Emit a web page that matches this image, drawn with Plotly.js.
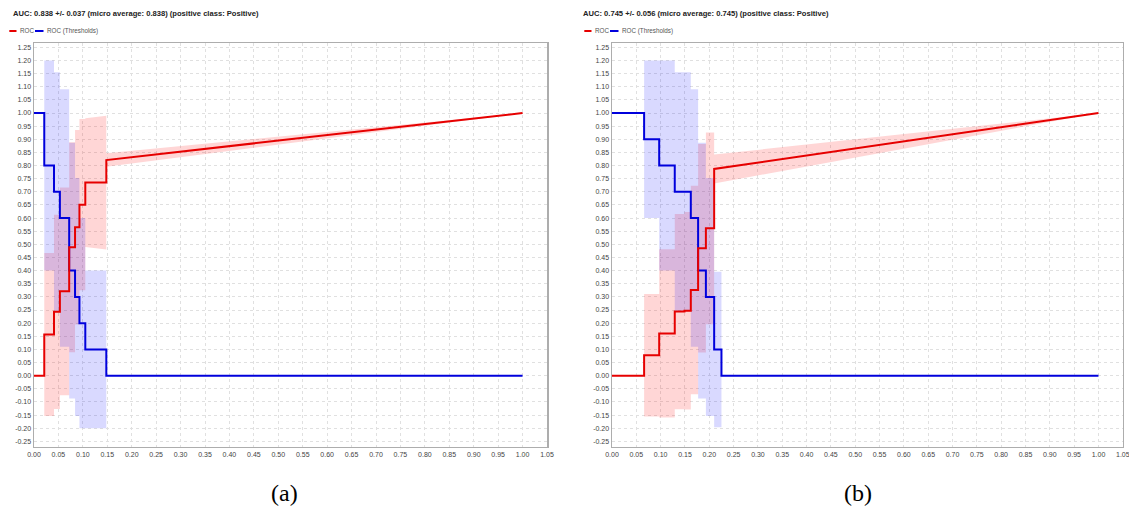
<!DOCTYPE html>
<html>
<head>
<meta charset="utf-8">
<script src="https://cdn.plot.ly/plotly-3.0.1.min.js"></script>
<style>html,body{margin:0;padding:0;background:#fff;overflow:hidden;}#chart{width:1129px;height:506px;}</style>
</head>
<body>
<div id="chart"></div>
<script>
// ---------- data (a) ----------
const rocA_x   = [0, 0.021, 0.021, 0.041, 0.041, 0.053, 0.053, 0.072, 0.072, 0.084, 0.084, 0.093, 0.093, 0.105, 0.105, 0.148, 0.148, 1.0];
const rocA_y   = [0, 0, 0.157, 0.157, 0.243, 0.243, 0.321, 0.321, 0.489, 0.489, 0.565, 0.565, 0.651, 0.651, 0.735, 0.735, 0.821, 1.0];
const rocA_sd  = [0, 0, 0.31, 0.31, 0.37, 0.37, 0.395, 0.395, 0.40, 0.40, 0.37, 0.37, 0.326, 0.326, 0.245, 0.255, 0.026, 0];
const thrA_x   = [0, 0.021, 0.021, 0.041, 0.041, 0.053, 0.053, 0.072, 0.072, 0.084, 0.084, 0.093, 0.093, 0.105, 0.105, 0.148, 0.148, 1.0];
const thrA_y   = [1, 1, 0.8, 0.8, 0.7, 0.7, 0.6, 0.6, 0.4, 0.4, 0.3, 0.3, 0.2, 0.2, 0.1, 0.1, 0, 0];
const thrA_sd  = [0, 0, 0.4, 0.4, 0.455, 0.455, 0.49, 0.49, 0.487, 0.487, 0.453, 0.453, 0.4, 0.4, 0.3, 0.3, 0, 0];

// ---------- data (b) ----------
const rocB_x   = [0, 0.066, 0.066, 0.097, 0.097, 0.129, 0.129, 0.149, 0.149, 0.162, 0.162, 0.177, 0.177, 0.193, 0.193, 0.210, 0.210, 1.0];
const rocB_y   = [0, 0, 0.078, 0.078, 0.161, 0.161, 0.244, 0.244, 0.247, 0.247, 0.326, 0.326, 0.485, 0.485, 0.561, 0.561, 0.787, 1.0];
const rocB_sd  = [0, 0, 0.233, 0.233, 0.32, 0.32, 0.372, 0.372, 0.376, 0.376, 0.397, 0.397, 0.397, 0.397, 0.365, 0.365, 0.055, 0];
const thrB_x   = [0, 0.066, 0.066, 0.097, 0.097, 0.129, 0.129, 0.162, 0.162, 0.177, 0.177, 0.193, 0.193, 0.210, 0.210, 0.225, 0.225, 1.0];
const thrB_y   = [1, 1, 0.9, 0.9, 0.8, 0.8, 0.7, 0.7, 0.6, 0.6, 0.4, 0.4, 0.3, 0.3, 0.1, 0.1, 0, 0];
const thrB_sd  = [0, 0, 0.3, 0.3, 0.4, 0.4, 0.455, 0.455, 0.49, 0.49, 0.487, 0.487, 0.453, 0.453, 0.296, 0.296, 0, 0];

// ---------- text ----------
const titleA = "AUC: 0.838 +/- 0.037 (micro average: 0.838) (positive class: Positive)";
const titleB = "AUC: 0.745 +/- 0.056 (micro average: 0.745) (positive class: Positive)";
const seriesNames = ["ROC", "ROC (Thresholds)"];
const captions = ["(a)", "(b)"];

// ---------- ticks ----------
const xTickVals = [0,0.05,0.10,0.15,0.20,0.25,0.30,0.35,0.40,0.45,0.50,0.55,0.60,0.65,0.70,0.75,0.80,0.85,0.90,0.95,1.00,1.05];
const xTickText = ["0.00","0.05","0.10","0.15","0.20","0.25","0.30","0.35","0.40","0.45","0.50","0.55","0.60","0.65","0.70","0.75","0.80","0.85","0.90","0.95","1.00","1.05"];
const yTickVals = [-0.25,-0.20,-0.15,-0.10,-0.05,0,0.05,0.10,0.15,0.20,0.25,0.30,0.35,0.40,0.45,0.50,0.55,0.60,0.65,0.70,0.75,0.80,0.85,0.90,0.95,1.00,1.05,1.10,1.15,1.20,1.25];
const yTickText = ["-0.25","-0.20","-0.15","-0.10","-0.05","0.00","0.05","0.10","0.15","0.20","0.25","0.30","0.35","0.40","0.45","0.50","0.55","0.60","0.65","0.70","0.75","0.80","0.85","0.90","0.95","1.00","1.05","1.10","1.15","1.20","1.25"];

// ---------- style ----------
const W = 1129, H = 506;
const RED = "rgb(230,0,0)", BLUE = "rgb(0,0,220)";
const RED_BAND = "rgba(255,0,0,0.16)", BLUE_BAND = "rgba(0,0,255,0.15)";
const px = v => v / W, py = v => 1 - v / H;

function band(xs, ys, sd, color, xa, ya) {
  const up = ys.map((v, i) => v + sd[i]);
  const lo = ys.map((v, i) => v - sd[i]);
  return {
    x: xs.concat(xs.slice().reverse()),
    y: up.concat(lo.slice().reverse()),
    type: "scatter", mode: "lines", fill: "toself", fillcolor: color,
    line: {width: 0, color: "rgba(0,0,0,0)"}, hoverinfo: "skip", showlegend: false,
    xaxis: xa, yaxis: ya
  };
}
function line(xs, ys, color, name, xa, ya) {
  return {x: xs, y: ys, type: "scatter", mode: "lines", name: name,
    line: {color: color, width: 2}, showlegend: false, xaxis: xa, yaxis: ya};
}

const data = [
  band(rocA_x, rocA_y, rocA_sd, RED_BAND, "x", "y"),
  band(thrA_x, thrA_y, thrA_sd, BLUE_BAND, "x", "y"),
  line(thrA_x, thrA_y, BLUE, seriesNames[1], "x", "y"),
  line(rocA_x, rocA_y, RED, seriesNames[0], "x", "y"),
  band(rocB_x, rocB_y, rocB_sd, RED_BAND, "x2", "y2"),
  band(thrB_x, thrB_y, thrB_sd, BLUE_BAND, "x2", "y2"),
  line(thrB_x, thrB_y, BLUE, seriesNames[1], "x2", "y2"),
  line(rocB_x, rocB_y, RED, seriesNames[0], "x2", "y2")
];

const tickFont = {family: "Liberation Sans, Arial, sans-serif", size: 7, color: "#444"};
const GRID = "#e0e0e0";
function xAxis(domain, anchor) {
  return {domain: domain, range: [0, 1.05], anchor: anchor,
    tickmode: "array", tickvals: xTickVals, ticktext: xTickText, tickfont: tickFont,
    ticklabeloverflow: "allow",
    ticks: "", showgrid: true, gridcolor: GRID, griddash: "dot", gridwidth: 1,
    zeroline: false, showline: true, linecolor: "#adadad", linewidth: 1.5, mirror: true,
    fixedrange: true};
}
function yAxis(anchor) {
  return {domain: [py(446.7), py(43)], range: [-0.2703, 1.2665], anchor: anchor,
    tickmode: "array", tickvals: yTickVals, ticktext: yTickText, tickfont: tickFont,
    ticks: "", showgrid: true, gridcolor: GRID, griddash: "dot", gridwidth: 1,
    zeroline: false, showline: true, linecolor: "#adadad", linewidth: 1.5, mirror: true,
    fixedrange: true};
}

const annotations = [];
const shapes = [];
const legFont = {family: "Liberation Sans, Arial, sans-serif", size: 6.3, color: "#555"};
function header(offTitle, offLeg, title) {
  annotations.push({xref: "paper", yref: "paper", x: px(offTitle + 10.5), y: py(13.5),
    xanchor: "left", yanchor: "middle", showarrow: false, text: "<b>" + title + "</b>",
    font: {family: "Liberation Sans, Arial, sans-serif", size: 7.6, color: "#222"}});
  shapes.push({type: "line", xref: "paper", yref: "paper", x0: px(offLeg + 9.3), x1: px(offLeg + 16.5),
    y0: py(31), y1: py(31), line: {color: RED, width: 2}});
  annotations.push({xref: "paper", yref: "paper", x: px(offLeg + 17.5), y: py(31),
    xanchor: "left", yanchor: "middle", showarrow: false, text: seriesNames[0], font: legFont});
  shapes.push({type: "line", xref: "paper", yref: "paper", x0: px(offLeg + 35), x1: px(offLeg + 43.5),
    y0: py(31), y1: py(31), line: {color: BLUE, width: 2}});
  annotations.push({xref: "paper", yref: "paper", x: px(offLeg + 44.5), y: py(31),
    xanchor: "left", yanchor: "middle", showarrow: false, text: seriesNames[1], font: legFont});
}
header(0, 0, titleA);
header(570, 575, titleB);
annotations.push({xref: "paper", yref: "paper", x: px(284), y: py(493), xanchor: "center", yanchor: "middle",
  showarrow: false, text: captions[0], font: {family: "Liberation Serif, Times New Roman, serif", size: 24, color: "#000"}});
annotations.push({xref: "paper", yref: "paper", x: px(858), y: py(493), xanchor: "center", yanchor: "middle",
  showarrow: false, text: captions[1], font: {family: "Liberation Serif, Times New Roman, serif", size: 24, color: "#000"}});

const layout = {
  width: W, height: H, margin: {l: 0, r: 0, t: 0, b: 0},
  paper_bgcolor: "#fff", plot_bgcolor: "#fff", showlegend: false,
  xaxis: xAxis([px(34), px(547)], "y"),
  yaxis: yAxis("x"),
  xaxis2: xAxis([px(612), px(1122.8)], "y2"),
  yaxis2: yAxis("x2"),
  annotations: annotations, shapes: shapes
};

Plotly.newPlot("chart", data, layout, {displayModeBar: false, staticPlot: true});
</script>
</body>
</html>
